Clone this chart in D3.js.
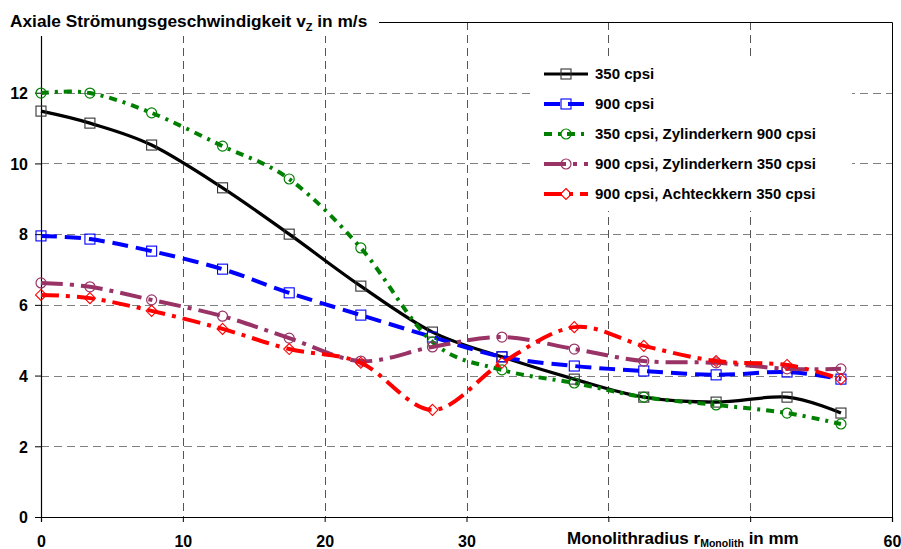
<!DOCTYPE html>
<html>
<head>
<meta charset="utf-8">
<script src="https://cdn.jsdelivr.net/npm/d3@7"></script>
<style>
body { margin: 0; background: #fff; overflow: hidden; }
svg { display: block; }
text { font-family: Arial, "Liberation Sans", sans-serif; font-weight: bold; fill: #000; }
</style>
</head>
<body>
<svg id="svg"></svg>
<script>
// values
var radius = [0, 3.45, 7.8, 12.8, 17.5, 22.55, 27.6, 32.5, 37.6, 42.5, 47.6, 52.6, 56.4];
var v350 = [11.48, 11.14, 10.52, 9.31, 8.0, 6.53, 5.23, 4.53, 3.90, 3.39, 3.25, 3.39, 2.94];
var v900 = [7.95, 7.86, 7.52, 7.01, 6.34, 5.71, 5.09, 4.53, 4.27, 4.13, 4.02, 4.10, 3.90];
var v350zyl900 = [11.99, 11.99, 11.43, 10.49, 9.56, 7.61, 4.95, 4.16, 3.79, 3.39, 3.17, 2.94, 2.63];
var v900zyl350 = [6.62, 6.51, 6.14, 5.68, 5.06, 4.41, 4.81, 5.09, 4.75, 4.41, 4.36, 4.19, 4.19];
var v900acht350 = [6.28, 6.19, 5.83, 5.32, 4.75, 4.36, 3.03, 4.36, 5.37, 4.84, 4.41, 4.30, 3.90];

var seriesNames = ["350 cpsi", "900 cpsi", "350 cpsi, Zylinderkern 900 cpsi",
                   "900 cpsi, Zylinderkern 350 cpsi", "900 cpsi, Achteckkern 350 cpsi"];
var xTicks = [0, 10, 20, 30, 40, 50, 60];
var xTickLabels = ["0", "10", "20", "30", "", "", "60"];   // 40 and 50 sit under the axis title
var yTicks = [0, 2, 4, 6, 8, 10, 12];

//////////////////////////////////////////////////////////////////////////////

var width = 901, height = 549;
var plot = {x1: 41, x2: 892, y1: 22, y2: 517};

var series = [
    {name: seriesNames[0], values: v350, color: "#000000", dash: null, lw: 3.2, marker: "square", mcolor: "#333333"},
    {name: seriesNames[1], values: v900, color: "#0000ff", dash: "16,8", lw: 4, marker: "square", mcolor: "#0000ff"},
    {name: seriesNames[2], values: v350zyl900, color: "#008000", dash: "8,6,3,6", lw: 4, marker: "circle", mcolor: "#008000"},
    {name: seriesNames[3], values: v900zyl350, color: "#993366", dash: "22,7,4,7", lw: 4, marker: "circle", mcolor: "#993366"},
    {name: seriesNames[4], values: v900acht350, color: "#ff0000", dash: "18,7,4,7", lw: 4, marker: "diamond", mcolor: "#ff0000"}
];

var x = d3.scaleLinear().domain([0, 60]).range([plot.x1, plot.x2]);
var y = d3.scaleLinear().domain([0, 14]).range([plot.y2, plot.y1]);

var svg = d3.select("#svg").attr("width", width).attr("height", height);

// grid
svg.append("g").selectAll("line")
    .data(yTicks.filter(function(d) { return d > 0; }))
    .enter().append("line")
    .attr("x1", plot.x1).attr("x2", plot.x2)
    .attr("y1", function(d) { return Math.round(y(d)) + 0.5; })
    .attr("y2", function(d) { return Math.round(y(d)) + 0.5; })
    .attr("stroke", "#808080").attr("stroke-width", 1).attr("stroke-dasharray", "8,5");

svg.append("g").selectAll("line")
    .data(xTicks.filter(function(d) { return d > 0 && d < 60; }))
    .enter().append("line")
    .attr("x1", function(d) { return Math.round(x(d)) + 0.5; })
    .attr("x2", function(d) { return Math.round(x(d)) + 0.5; })
    .attr("y1", plot.y1).attr("y2", plot.y2)
    .attr("stroke", "#555").attr("stroke-width", 1).attr("stroke-dasharray", "8,5");

// frame top and right
svg.append("path")
    .attr("d", "M" + plot.x1 + "," + (plot.y1 + 0.5) + "H" + (plot.x2 + 0.5) + "V" + plot.y2)
    .attr("fill", "none").attr("stroke", "#000").attr("stroke-width", 1);

// axes
var xAxis = svg.append("g").attr("transform", "translate(0," + plot.y2 + ")")
    .call(d3.axisBottom(x).tickValues(xTicks).tickSize(5).tickPadding(14)
        .tickFormat(function(d, i) { return xTickLabels[i]; }));
var yAxis = svg.append("g").attr("transform", "translate(" + plot.x1 + ",0)")
    .call(d3.axisLeft(y).tickValues(yTicks).tickSize(6).tickPadding(7).tickFormat(d3.format("d")));

[xAxis, yAxis].forEach(function(a) {
    a.select(".domain").attr("stroke", "#000").attr("stroke-width", 1.2);
    a.selectAll(".tick line").attr("stroke", "#000");
    a.selectAll(".tick text").style("font-size", "16px").style("font-weight", "bold")
        .style("font-family", "Arial, 'Liberation Sans', sans-serif");
});
yAxis.selectAll(".tick text").attr("dy", "0.36em");

// lines
var line = d3.line()
    .x(function(d) { return x(d[0]); })
    .y(function(d) { return y(d[1]); })
    .curve(d3.curveCatmullRom.alpha(0));

function drawMarker(g, type, cx, cy, color) {
    if (type === "square") {
        g.append("rect").attr("x", cx - 5).attr("y", cy - 5).attr("width", 10).attr("height", 10)
            .attr("fill", "none").attr("stroke", color).attr("stroke-width", 1.1);
    } else if (type === "circle") {
        g.append("circle").attr("cx", cx).attr("cy", cy).attr("r", 5)
            .attr("fill", "none").attr("stroke", color).attr("stroke-width", 1.2);
    } else {
        g.append("path").attr("d", "M" + cx + "," + (cy - 5.5) + "L" + (cx + 5.5) + "," + cy +
                "L" + cx + "," + (cy + 5.5) + "L" + (cx - 5.5) + "," + cy + "Z")
            .attr("fill", "none").attr("stroke", color).attr("stroke-width", 1.1);
    }
}

series.forEach(function(s) {
    var pts = radius.map(function(r, i) { return [r, s.values[i]]; });
    var g = svg.append("g");
    g.append("path").attr("d", line(pts))
        .attr("fill", "none").attr("stroke", s.color).attr("stroke-width", s.lw)
        .attr("stroke-dasharray", s.dash);
    pts.forEach(function(p) {
        drawMarker(g, s.marker, x(p[0]), y(p[1]), s.mcolor);
    });
});

// legend
var lg = svg.append("g");
lg.append("rect").attr("x", 533).attr("y", 57).attr("width", 319).attr("height", 154).attr("fill", "#fff");
series.forEach(function(s, i) {
    var ly = 74 + i * 30;
    lg.append("line").attr("x1", 544).attr("x2", 588).attr("y1", ly).attr("y2", ly)
        .attr("stroke", s.color).attr("stroke-width", s.lw).attr("stroke-dasharray", s.dash);
    drawMarker(lg, s.marker, 566, ly, s.mcolor);
    lg.append("text").attr("x", 595).attr("y", ly + 5).style("font-size", "15px").text(s.name);
});

// y title with white box
svg.append("rect").attr("x", 0).attr("y", 0).attr("width", 379).attr("height", 36).attr("fill", "#fff");
var yt = svg.append("text").attr("x", 10).attr("y", 27).style("font-size", "17.3px");
yt.append("tspan").text("Axiale Strömungsgeschwindigkeit v");
yt.append("tspan").attr("dy", 4).style("font-size", "11px").text("Z");
yt.append("tspan").attr("dy", -4).text(" in m/s");

// x title with white box
svg.append("rect").attr("x", 560).attr("y", 528).attr("width", 256).attr("height", 21).attr("fill", "#fff");
var xt = svg.append("text").attr("x", 567).attr("y", 544).style("font-size", "17px");
xt.append("tspan").text("Monolithradius r");
xt.append("tspan").attr("dy", 2.5).style("font-size", "10.5px").text("Monolith");
xt.append("tspan").attr("dy", -2.5).text(" in mm");
</script>
</body>
</html>
